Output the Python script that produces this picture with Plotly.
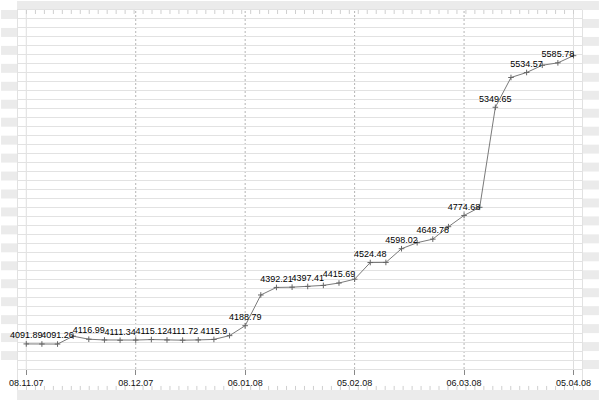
import plotly.graph_objects as go

# ---- data ----
tick_labels = ["08.11.07", "08.12.07", "06.01.08", "05.02.08", "06.03.08", "05.04.08"]
tick_index = [0, 7, 14, 21, 28, 35]
point_index = list(range(36))
values = [
    4091.89, 4091.6, 4091.26, 4133.0, 4116.99, 4113.0, 4111.34, 4112.5,
    4115.12, 4113.0, 4111.72, 4113.2, 4115.9, 4136.0, 4188.79, 4352.0,
    4392.21, 4393.5, 4397.41, 4403.0, 4415.69, 4436.0, 4524.48, 4525.0,
    4598.02, 4630.0, 4648.78, 4715.0, 4774.68, 4818.0, 5349.65, 5508.0,
    5534.57, 5573.0, 5585.78, 5624.0,
]
point_labels = [str(v) if i % 2 == 0 else "" for i, v in enumerate(values)]

# ---- geometry (pixels of a 600x400 canvas) ----
W, H = 600, 400
L, R, T, B = 16, 17, 9, 31
PW, PH = W - L - R, H - T - B
Y0, DY = 3958.67, 47.7          # bottom of value axis, grid step
X_LEFT, X_RIGHT = -0.5927, 35.542

def px_x(p):
    return (p - L) / PW

def px_y(p):
    return (H - B - p) / PH

GREY = "#ebebeb"
LINE = "#e2e2e2"

shapes = []
# top and bottom bars
shapes.append(dict(type="rect", xref="paper", yref="paper", x0=px_x(16), x1=px_x(600),
                   y0=px_y(0), y1=px_y(9), fillcolor=GREY, line_width=0, layer="below"))
shapes.append(dict(type="rect", xref="paper", yref="paper", x0=px_x(16), x1=px_x(600),
                   y0=px_y(390), y1=px_y(400), fillcolor=GREY, line_width=0, layer="below"))
# side stripes
for k in range(20):
    shapes.append(dict(type="rect", xref="paper", yref="paper", x0=px_x(0), x1=px_x(16),
                       y0=px_y(18 * k + 9), y1=px_y(18 * k + 18), fillcolor=GREY,
                       line_width=0, layer="below"))
    shapes.append(dict(type="rect", xref="paper", yref="paper", x0=px_x(583), x1=px_x(600),
                       y0=px_y(18 * k + 18), y1=px_y(18 * k + 27), fillcolor=GREY,
                       line_width=0, layer="below"))
# outer frame verticals
for xp in (16.5, 583.5):
    shapes.append(dict(type="line", xref="paper", yref="paper", x0=px_x(xp), x1=px_x(xp),
                       y0=px_y(9), y1=px_y(390), line=dict(color=LINE, width=1), layer="below"))
# inner frame verticals at first/last tick
for tv in (tick_index[0], tick_index[-1]):
    shapes.append(dict(type="line", xref="x", yref="paper", x0=tv, x1=tv, y0=0, y1=1,
                       line=dict(color="#dedede", width=1), layer="between"))
# dashed verticals at interior ticks
for tv in tick_index[1:-1]:
    shapes.append(dict(type="line", xref="x", yref="paper", x0=tv, x1=tv, y0=0, y1=1,
                       line=dict(color="#b4b4b4", width=1, dash="2px,2px"), layer="between"))
# ruler ticks top & bottom
top_path = ""
bot_path = ""
for k in range(62):
    xp = px_x(25.5 + 9 * k)
    top_path += f"M{xp},{px_y(9)} L{xp},{px_y(13)} "
    bot_path += f"M{xp},{px_y(386)} L{xp},{px_y(390)} "
shapes.append(dict(type="path", xref="paper", yref="paper", path=top_path,
                   line=dict(color="#cfcfcf", width=1), layer="between"))
shapes.append(dict(type="path", xref="paper", yref="paper", path=bot_path,
                   line=dict(color="#cfcfcf", width=1), layer="below"))

fig = go.Figure()
fig.add_trace(go.Scatter(
    x=point_index, y=values, mode="lines+markers+text",
    text=point_labels, textposition="top center",
    textfont=dict(family="Liberation Sans", size=9, color="#000000"),
    line=dict(color="#7a7a7a", width=1),
    marker=dict(symbol="cross-thin", size=4, color="#666666",
                line=dict(color="#666666", width=1)),
    cliponaxis=False, hoverinfo="skip", showlegend=False,
))

fig.update_layout(
    width=W, height=H, autosize=False,
    margin=dict(l=L, r=R, t=T, b=B, pad=0),
    paper_bgcolor="white", plot_bgcolor="white",
    shapes=shapes,
    xaxis=dict(range=[X_LEFT, X_RIGHT], tickmode="array", tickvals=tick_index,
               ticktext=tick_labels, showgrid=False, zeroline=False,
               ticks="outside", ticklen=5, tickcolor="#888888", tickwidth=1,
               showline=True, linecolor=LINE, linewidth=1, mirror=True,
               tickfont=dict(family="Liberation Sans", size=9, color="#111111")),
    yaxis=dict(range=[Y0, Y0 + 40 * DY], tick0=Y0, dtick=DY, showgrid=True,
               gridcolor=LINE, gridwidth=1, zeroline=False, showticklabels=False,
               ticks="", showline=False),
)

fig.write_html("out.html", config={"displayModeBar": False},
               post_script="document.body.style.margin='0';")
